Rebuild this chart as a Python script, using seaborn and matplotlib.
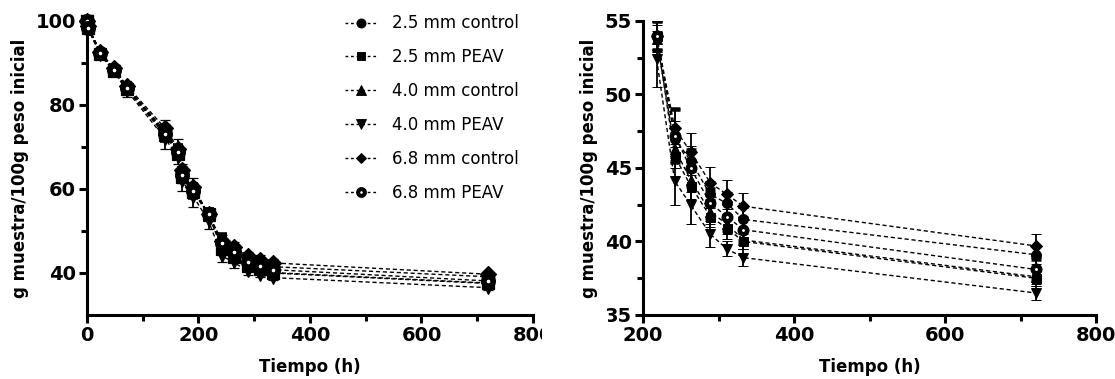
import matplotlib
matplotlib.use("Agg")
import matplotlib.pyplot as plt
from matplotlib.lines import Line2D
from matplotlib.patches import Rectangle
import seaborn as sns
import numpy as np
import pandas as pd

# sampling times (h)
tiempo = [0, 2, 24, 48, 72, 140, 164, 170, 191, 218, 242, 263, 289, 311, 333, 720]

# mean values, g muestra / 100 g peso inicial
c25_control = [100, 98.5, 92.4, 88.6, 84.2, 73.8, 69.0, 64.0, 60.0, 54.0, 47.0, 45.5, 43.2, 42.6, 41.5, 39.1]
c25_peav = [100, 98.3, 92.2, 88.2, 83.8, 72.8, 68.4, 62.8, 59.2, 54.0, 45.8, 43.8, 41.7, 40.9, 40.0, 37.5]
c40_control = [100, 98.6, 92.5, 88.5, 84.0, 73.4, 68.8, 63.6, 59.8, 53.8, 46.3, 44.2, 42.0, 41.2, 40.1, 37.6]
c40_peav = [100, 98.0, 92.0, 88.0, 83.4, 72.0, 67.6, 62.0, 58.2, 52.4, 44.1, 42.5, 40.5, 39.5, 38.9, 36.5]
c68_control = [100, 98.8, 92.6, 88.8, 84.5, 74.5, 69.5, 64.5, 60.5, 54.0, 47.7, 46.1, 44.0, 43.2, 42.4, 39.7]
c68_peav = [100, 98.4, 92.3, 88.4, 84.0, 73.2, 68.8, 63.4, 59.6, 54.0, 47.2, 45.0, 42.6, 41.7, 40.8, 38.1]

# standard deviations
sd25_control = [0, 0.4, 0.5, 0.6, 1.0, 1.6, 1.5, 1.4, 1.5, 1.0, 1.2, 1.0, 0.9, 0.8, 0.8, 0.6]
sd25_peav = [0, 0.3, 0.4, 0.5, 0.8, 1.2, 1.2, 1.3, 1.4, 1.0, 0.8, 0.9, 0.7, 0.7, 0.5, 0.5]
sd40_control = [0, 0.3, 0.4, 0.5, 0.9, 1.4, 1.3, 1.2, 1.3, 0.9, 0.9, 0.8, 0.8, 0.7, 0.6, 0.5]
sd40_peav = [0, 0.4, 0.5, 0.6, 1.6, 2.5, 1.6, 2.4, 2.6, 1.9, 1.6, 1.3, 0.9, 0.5, 0.6, 0.5]
sd68_control = [0, 0.3, 0.4, 0.6, 1.0, 2.0, 2.4, 1.5, 2.0, 0.9, 1.3, 1.3, 1.1, 1.0, 0.9, 0.8]
sd68_peav = [0, 0.4, 0.5, 0.5, 0.9, 1.5, 1.4, 1.3, 1.4, 1.0, 1.8, 1.2, 1.0, 0.9, 0.8, 0.7]

series = ["2.5 mm control", "2.5 mm PEAV", "4.0 mm control",
          "4.0 mm PEAV", "6.8 mm control", "6.8 mm PEAV"]
medias = [c25_control, c25_peav, c40_control, c40_peav, c68_control, c68_peav]
desvios = [sd25_control, sd25_peav, sd40_control, sd40_peav, sd68_control, sd68_peav]

# marker, size factor, face colour, edge width (as fraction of size)
estilos = {
    "2.5 mm control": ("o", 1.0, "black", 0.1),
    "2.5 mm PEAV": ("s", 0.9, "black", 0.1),
    "4.0 mm control": ("^", 1.0, "black", 0.1),
    "4.0 mm PEAV": ("v", 1.0, "black", 0.1),
    "6.8 mm control": ("D", 0.85, "black", 0.1),
    "6.8 mm PEAV": ("o", 0.75, "white", 0.45),  # thick ring, tiny hole
}

df = pd.concat([
    pd.DataFrame({"t": tiempo, "v": m, "sd": s, "serie": n})
    for n, m, s in zip(series, medias, desvios)
], ignore_index=True)

sns.set_style("ticks")
plt.rcParams["font.family"] = ["DejaVu Sans"]
for k in ("text.color", "axes.labelcolor", "xtick.color", "ytick.color", "axes.edgecolor"):
    plt.rcParams[k] = "black"

fig = plt.figure(figsize=(11.15, 3.79), dpi=100)
ax1 = fig.add_axes([0.078, 0.1689, 0.400, 0.7757])
ax2 = fig.add_axes([0.5767, 0.1689, 0.4063, 0.7757])

dash = (0, (3, 2))


def draw(ax, data, ms, clip):
    sns.lineplot(data=data, x="t", y="v", hue="serie", palette=["black"] * 6,
                 estimator=None, sort=False, legend=False, ax=ax,
                 linestyle=dash, linewidth=1.0)
    for n in series:
        d = data[data["serie"] == n]
        mk, f, fc, mw = estilos[n]
        ax.errorbar(d["t"], d["v"], yerr=d["sd"], fmt=mk, ms=ms * f,
                    mfc=fc, mec="black", mew=mw * ms, color="black",
                    ecolor="black", elinewidth=1.3, capsize=3.4,
                    capthick=1.3, clip_on=clip, zorder=3)


draw(ax1, df, 9, False)
draw(ax2, df[df["t"] >= 200], 7.2, True)

ax1.set_xlim(0, 800)
ax1.set_ylim(30, 100)
ax1.set_xticks([0, 200, 400, 600, 800])
ax1.set_xticks([100, 300, 500, 700], minor=True)
ax1.set_yticks([40, 60, 80, 100])
ax1.set_yticks([50, 70, 90], minor=True)

ax2.set_xlim(200, 800)
ax2.set_ylim(35, 55)
ax2.set_xticks([200, 400, 600, 800])
ax2.set_xticks([300, 500, 700], minor=True)
ax2.set_yticks([35, 40, 45, 50, 55])
ax2.set_yticks([37.5, 42.5, 47.5, 52.5], minor=True)

for ax in (ax1, ax2):
    sns.despine(ax=ax)
    for sp in ("left", "bottom"):
        ax.spines[sp].set_linewidth(2.2)
    ax.tick_params(which="major", length=6, width=2.2, labelsize=14, pad=2)
    ax.tick_params(which="minor", length=4, width=2.2)
    for lbl in ax.get_xticklabels() + ax.get_yticklabels():
        lbl.set_fontweight("bold")
    ax.set_xlabel("Tiempo (h)", fontsize=12, fontweight="bold", labelpad=9)
    ax.set_ylabel("g muestra/100g peso inicial", fontsize=12,
                  fontweight="bold", labelpad=5)

handles = []
for n in series:
    mk, f, fc, mw = estilos[n]
    handles.append(Line2D([], [], color="black", linestyle=(0, (2, 2)), lw=1.0,
                          marker=mk, ms=6.5 * f, mfc=fc, mec="black",
                          mew=mw * 6.5))
fig.legend(handles, series, loc="upper left", bbox_to_anchor=(0.3094, 0.962),
           frameon=False, fontsize=12, handlelength=1.92, handletextpad=0.9,
           labelspacing=0.95, borderpad=0, borderaxespad=0)

# the left panel's last tick label is cut by the panel border in the original
fig.patches.append(Rectangle((0.4857, 0), 0.06, 0.16, transform=fig.transFigure,
                             facecolor="white", edgecolor="none", zorder=10))

fig.savefig("out.png", dpi=100)
